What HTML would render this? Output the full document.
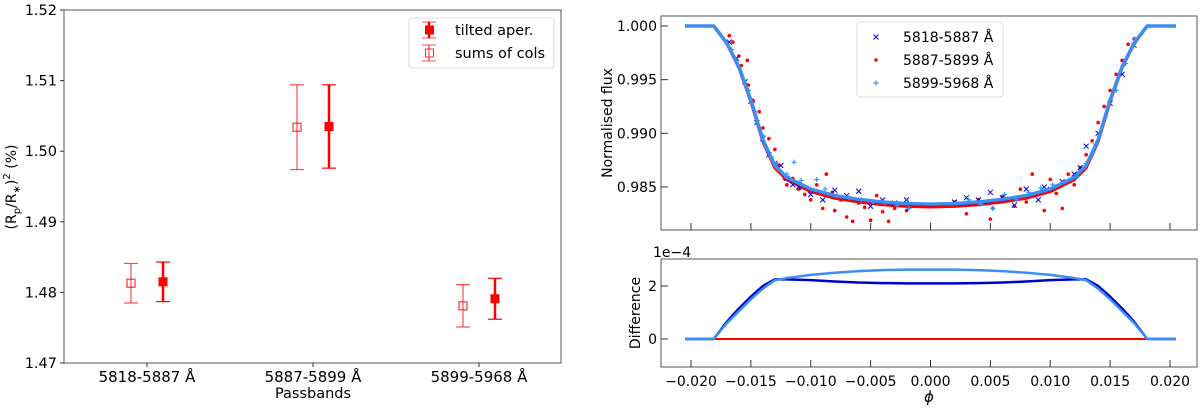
<!DOCTYPE html>
<html><head><meta charset="utf-8"><style>
body{margin:0;background:#fff}
svg{display:block;font-family:"DejaVu Sans","Liberation Sans",sans-serif}
</style></head><body>
<svg id="c" width="1200" height="408" viewBox="0 0 1200 408" xmlns="http://www.w3.org/2000/svg"></svg>
<script>
// ---- Left chart data ----
const bands = ["5818-5887 Å","5887-5899 Å","5899-5968 Å"];
const tiltedVals = [1.4815, 1.5035, 1.4791];
const tiltedErr = [0.0028, 0.0059, 0.0029];
const sumsVals = [1.4813, 1.5034, 1.4781];
const sumsErr = [0.0028, 0.0060, 0.0030];
const leftYTicks = [1.47,1.48,1.49,1.50,1.51,1.52];
// ---- Right chart data ----
const phaseTicks = [-0.020,-0.015,-0.010,-0.005,0.000,0.005,0.010,0.015,0.020];
const fluxTicks = [0.985,0.990,0.995,1.000];
const diffTicks = [0,2];
const modelPhase = [-0.0205,-0.0181,-0.017,-0.016,-0.015,-0.014,-0.013,-0.012,-0.010,-0.008,-0.006,-0.004,-0.002,0,0.002,0.004,0.006,0.008,0.010,0.012,0.013,0.014,0.015,0.016,0.017,0.0181,0.0205];
const modelFlux = [1.0,1.0,0.9984,0.9962,0.9931,0.9894,0.9870,0.9859,0.9848,0.9842,0.98385,0.98360,0.98345,0.9834,0.98345,0.98360,0.98385,0.9842,0.9848,0.9859,0.9870,0.9894,0.9931,0.9962,0.9984,1.0,1.0];
const diffDark = [0,0,0.65,1.15,1.6,2.0,2.25,2.25,2.22,2.17,2.13,2.11,2.1,2.1,2.1,2.11,2.13,2.17,2.22,2.25,2.25,2.0,1.6,1.15,0.65,0,0];
const diffLight = [0,0,0.6,1.05,1.5,1.9,2.22,2.3,2.42,2.5,2.56,2.6,2.62,2.62,2.62,2.6,2.56,2.5,2.42,2.3,2.22,1.9,1.5,1.05,0.6,0,0];
const redPhase = [-0.0168,-0.0165,-0.016,-0.0158,-0.0153,-0.0152,-0.0148,-0.0143,-0.014,-0.0135,-0.013,-0.0127,-0.0122,-0.012,-0.0115,-0.011,-0.0105,-0.010,-0.0095,-0.009,-0.0087,-0.0082,-0.008,-0.0075,-0.007,-0.0065,-0.006,-0.0055,-0.005,-0.0045,-0.004,-0.0035,-0.003,-0.002,-0.001,0.002,0.003,0.004,0.005,0.0052,0.006,0.007,0.0075,0.008,0.0085,0.009,0.0095,0.010,0.0105,0.011,0.0115,0.012,0.0125,0.013,0.0135,0.014,0.0145,0.015,0.0155,0.016,0.0165,0.017];
const redFlux = [0.9991,0.9985,0.9972,0.9963,0.9968,0.9945,0.9930,0.9920,0.9905,0.9895,0.9885,0.9870,0.9858,0.9852,0.9858,0.9848,0.9843,0.9838,0.9852,0.9830,0.9862,0.9845,0.9828,0.9838,0.9822,0.9818,0.9835,0.9831,0.9819,0.9842,0.9827,0.9818,0.9830,0.9828,0.9833,0.9836,0.9825,0.9838,0.9820,0.9830,0.9841,0.9832,0.9848,0.9836,0.9862,0.9845,0.9828,0.9857,0.9844,0.9830,0.9862,0.9852,0.9868,0.9880,0.9893,0.9910,0.9925,0.9940,0.9955,0.9968,0.9983,0.9988];
const bluePhase = [-0.0168,-0.0162,-0.0155,-0.015,-0.0145,-0.014,-0.0135,-0.013,-0.0125,-0.012,-0.0115,-0.011,-0.010,-0.009,-0.008,-0.007,-0.006,-0.005,-0.004,-0.003,-0.002,0.002,0.003,0.004,0.005,0.006,0.007,0.008,0.009,0.0095,0.010,0.011,0.012,0.0125,0.013,0.014,0.015,0.016,0.017];
const blueFlux = [0.9985,0.9970,0.9948,0.9930,0.9910,0.9895,0.9880,0.9872,0.9870,0.9858,0.9852,0.9850,0.9843,0.9838,0.9847,0.9842,0.9846,0.9832,0.9838,0.9835,0.9838,0.9836,0.9840,0.9838,0.9845,0.9840,0.9833,0.9848,0.9838,0.9850,0.9848,0.9855,0.9862,0.9868,0.9888,0.9900,0.9928,0.9955,0.9982];
const lbPhase = [-0.0166,-0.016,-0.0152,-0.0146,-0.014,-0.0133,-0.0128,-0.012,-0.0114,-0.0108,-0.0095,-0.0088,-0.0078,-0.0068,-0.0058,-0.0048,-0.0038,-0.0028,-0.0018,0.0022,0.0032,0.0042,0.0052,0.0062,0.0072,0.0082,0.0092,0.0102,0.0112,0.0122,0.013,0.0138,0.0146,0.0155,0.0163,0.0171];
const lbFlux = [0.9978,0.9962,0.9940,0.9920,0.9898,0.9878,0.9872,0.9862,0.9873,0.9856,0.9857,0.9848,0.9842,0.9840,0.9838,0.9836,0.9835,0.9833,0.9830,0.9835,0.9838,0.9834,0.9830,0.9843,0.9838,0.9845,0.9849,0.9852,0.9855,0.9860,0.9872,0.9890,0.9915,0.9940,0.9965,0.9988];

const NS="http://www.w3.org/2000/svg";
const svg=document.getElementById('c');
function el(tag,attrs,parent,text){const e=document.createElementNS(NS,tag);for(const k in attrs)e.setAttribute(k,attrs[k]);if(text!==undefined)e.textContent=text;(parent||svg).appendChild(e);return e;}

// ===== Left chart =====
const L={x0:64,x1:561,y0:10,y1:363};
const ly=v=>L.y1-(v-1.47)/(0.05)*(L.y1-L.y0);
const lx=i=>147+i*166;
const gL=el('g',{});


const lframe=el('rect',{x:L.x0,y:L.y0,width:L.x1-L.x0,height:L.y1-L.y0,fill:'none',stroke:'#555','stroke-width':1},gL);


leftYTicks.forEach(t=>{const y=ly(t);
 el('line',{x1:L.x0-4,x2:L.x0,y1:y,y2:y,stroke:'#333'},gL);
 const tx=el('text',{x:L.x0-7,y:y+5,'text-anchor':'end','font-size':14.5,fill:'#000'},gL,t.toFixed(2));
 
 
});
bands.forEach((b,i)=>{const x=lx(i);
 el('line',{x1:x,x2:x,y1:L.y1,y2:L.y1+4,stroke:'#333'},gL);
 const tx=el('text',{x:x,y:L.y1+19,'text-anchor':'middle','font-size':15},gL,b);
 
 
});
function errbar(x,v,e,filled,name){
 const g=el('g',{},gL);
 
 
 const op=filled?1:0.7, w=filled?2.5:1.2;
 el('line',{x1:x,x2:x,y1:ly(v+e),y2:ly(v-e),stroke:'#f00','stroke-width':w,opacity:op},g);
 el('line',{x1:x-7,x2:x+7,y1:ly(v+e),y2:ly(v+e),stroke:'#f00','stroke-width':1.2,opacity:op},g);
 el('line',{x1:x-7,x2:x+7,y1:ly(v-e),y2:ly(v-e),stroke:'#f00','stroke-width':1.2,opacity:op},g);
 if(filled) el('rect',{x:x-4.5,y:ly(v)-4.5,width:9,height:9,fill:'#f00'},g);
 else el('rect',{x:x-4,y:ly(v)-4,width:8,height:8,fill:'none',stroke:'#f00','stroke-width':1.2,opacity:0.8},g);
}
bands.forEach((b,i)=>{errbar(lx(i)-16,sumsVals[i],sumsErr[i],false,'sums-of-cols-point');errbar(lx(i)+16,tiltedVals[i],tiltedErr[i],true,'tilted-aper-point');});
const xl=el('text',{x:313,y:398,'text-anchor':'middle','font-size':14.5},gL,'Passbands');


const yl=el('text',{transform:'translate(16,187) rotate(-90)','text-anchor':'middle','font-size':14},gL);


yl.innerHTML='(R<tspan font-size="10" dy="4">p</tspan><tspan dy="-4">/R</tspan><tspan font-size="10" dy="4">∗</tspan><tspan dy="-4">)</tspan><tspan font-size="10" dy="-6">2</tspan><tspan dy="6"> (%)</tspan>';
// legend
const lg=el('g',{},gL);


el('rect',{x:409,y:18,width:145,height:50,rx:3,fill:'#fff',stroke:'#ddd'},lg);
[[30,true,'tilted aper.'],[53,false,'sums of cols']].forEach(([y,f,t])=>{
 const g=el('g',{},lg);
 
 
 el('line',{x1:429,x2:429,y1:y-8,y2:y+8,stroke:'#f00','stroke-width':f?2.5:1.2,opacity:f?1:0.7},g);
 el('line',{x1:422,x2:436,y1:y-8,y2:y-8,stroke:'#f00',opacity:0.7},g);
 el('line',{x1:422,x2:436,y1:y+8,y2:y+8,stroke:'#f00',opacity:0.7},g);
 if(f) el('rect',{x:425,y:y-4.5,width:9,height:9,fill:'#f00'},g);
 else el('rect',{x:425.5,y:y-4,width:8,height:8,fill:'none',stroke:'#f00',opacity:0.8},g);
 el('text',{x:455,y:y+5,'font-size':14.5},g,t);
});

// ===== Right chart =====
const R={x0:661,x1:1197,t0:16,t1:230,b0:259,b1:367};
const px=p=>691+(p+0.02)/0.04*479;
const fy=f=>R.t1-(f-0.98099)/(1.00093-0.98099)*(R.t1-R.t0);
const dy=d=>339-d*26.5;
const gR=el('g',{});


const tf=el('rect',{x:R.x0,y:R.t0,width:R.x1-R.x0,height:R.t1-R.t0,fill:'none',stroke:'#555'},gR);


const bf=el('rect',{x:R.x0,y:R.b0,width:R.x1-R.x0,height:R.b1-R.b0,fill:'none',stroke:'#555'},gR);


phaseTicks.forEach(t=>{const x=px(t);
 el('line',{x1:x,x2:x,y1:R.t1,y2:R.t1-7,stroke:'#333'},gR);
 el('line',{x1:x,x2:x,y1:R.b1,y2:R.b1-7,stroke:'#333'},gR);
 const tx=el('text',{x:x,y:R.b1+19,'text-anchor':'middle','font-size':14},gR,(t<0?'\u2212':'')+Math.abs(t).toFixed(3));
 
 
});
fluxTicks.forEach(t=>{const y=fy(t);
 el('line',{x1:R.x0,x2:R.x0+7,y1:y,y2:y,stroke:'#333'},gR);
 const tx=el('text',{x:R.x0-4,y:y+5,'text-anchor':'end','font-size':14},gR,t.toFixed(3));
 
 
});
diffTicks.forEach(t=>{const y=dy(t);
 el('line',{x1:R.x0,x2:R.x0+7,y1:y,y2:y,stroke:'#333'},gR);
 const tx=el('text',{x:R.x0-4,y:y+5,'text-anchor':'end','font-size':14},gR,String(t));
 
 
});
const off=el('text',{x:R.x0-8,y:257,'font-size':14},gR,'1e\u22124');


const ylr=el('text',{transform:'translate(612,123) rotate(-90)','text-anchor':'middle','font-size':14},gR,'Normalised flux');


const yld=el('text',{transform:'translate(640,313) rotate(-90)','text-anchor':'middle','font-size':14},gR,'Difference');


const phl=el('text',{x:929,y:402,'text-anchor':'middle','font-size':15,'font-style':'italic'},gR,'ϕ');



// models
const redModel=modelFlux.map((f,i)=>f-diffLight[i]*1e-4);
const darkModel=modelFlux.map((f,i)=>f-(diffLight[i]-diffDark[i])*1e-4);
function poly(xs,ys,fx,fyf,color,w,name,parent){const p=el('polyline',{points:xs.map((x,i)=>fx(x)+','+fyf(ys[i])).join(' '),fill:'none',stroke:color,'stroke-width':w,'stroke-linejoin':'round'},parent);
 
 }
// scatter
redPhase.forEach((p,i)=>{const c=el('circle',{cx:px(p),cy:fy(redFlux[i]),r:1.8,fill:'#f00'},gR);
 
 });
poly(modelPhase,redModel,px,fy,'#f00',3,'red-model',gR);
poly(modelPhase,darkModel,px,fy,'#0000dd',3,'blue-model',gR);
bluePhase.forEach((p,i)=>{const x=px(p),y=fy(blueFlux[i]);const g=el('path',{d:`M${x-2.5},${y-2.5}L${x+2.5},${y+2.5}M${x-2.5},${y+2.5}L${x+2.5},${y-2.5}`,stroke:'#0000ee','stroke-width':1},gR);
 
 });
lbPhase.forEach((p,i)=>{const x=px(p),y=fy(lbFlux[i]);const g=el('path',{d:`M${x-2.5},${y}L${x+2.5},${y}M${x},${y-2.5}L${x},${y+2.5}`,stroke:'#3399ff','stroke-width':1.2},gR);
 
 });
poly(modelPhase,modelFlux,px,fy,'#3b8ff0',3.5,'lightblue-model',gR);
// difference
poly(modelPhase,modelPhase.map(()=>0),px,dy,'#f00',2,'red-difference',gR);
poly(modelPhase,diffDark,px,dy,'#0000cc',2.5,'blue-difference',gR);
poly(modelPhase,diffLight,px,dy,'#3b8ff0',2.5,'lightblue-difference',gR);
// legend
const rl=el('g',{},gR);


el('rect',{x:857,y:22,width:146,height:75,rx:3,fill:'#fff',stroke:'#ddd'},rl);
[[37,'x','#0000ee','5818-5887 Å'],[60,'o','#f00','5887-5899 Å'],[83,'+','#3399ff','5899-5968 Å']].forEach(([y,m,c,t])=>{
 const g=el('g',{},rl);
 
 
 const x=876;
 if(m==='x') el('path',{d:`M${x-2.5},${y-2.5}L${x+2.5},${y+2.5}M${x-2.5},${y+2.5}L${x+2.5},${y-2.5}`,stroke:c},g);
 else if(m==='o') el('circle',{cx:x,cy:y,r:1.8,fill:c},g);
 else el('path',{d:`M${x-2.5},${y}L${x+2.5},${y}M${x},${y-2.5}L${x},${y+2.5}`,stroke:c,'stroke-width':1.2},g);
 el('text',{x:903,y:y+5,'font-size':14},g,t);
});
</script>
</body></html>
